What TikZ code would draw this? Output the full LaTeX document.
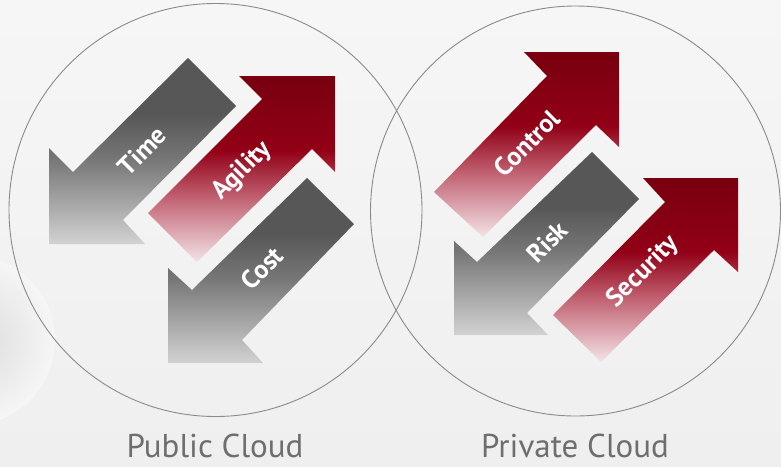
\documentclass[tikz,border=0pt]{standalone}
\usepackage{fontspec}
\setmainfont{PT Sans}
\definecolor{bgtop}{HTML}{F6F6F6}
\definecolor{bgbot}{HTML}{EFEFEF}
\definecolor{blobc}{HTML}{DADADA}
\definecolor{ring}{HTML}{8A8A8A}
\definecolor{gdark}{HTML}{575757}
\definecolor{gmid}{HTML}{767676}
\definecolor{glight}{HTML}{D2D2D2}
\definecolor{rdark}{HTML}{78000E}
\definecolor{rmid}{HTML}{920016}
\definecolor{rpink}{HTML}{C26474}
\definecolor{rlight}{HTML}{F3E3E6}
\definecolor{captext}{HTML}{6E6E6E}
\pgfdeclareverticalshading{grayarrow}{100bp}{color(0bp)=(glight); color(25bp)=(glight); color(48bp)=(gmid); color(60bp)=(gdark); color(100bp)=(gdark)}
\pgfdeclareverticalshading{redarrow}{100bp}{color(0bp)=(rlight); color(25bp)=(rlight); color(42bp)=(rpink); color(55bp)=(rmid); color(75bp)=(rdark); color(100bp)=(rdark)}
\tikzset{
  cloudring/.style={draw=ring, line width=0.9pt},
  grayarr/.style={shading=grayarrow},
  redarr/.style={shading=redarrow},
  lbl/.style={text=white, font=\bfseries\fontsize{26}{28}\selectfont, rotate=45, inner sep=0pt},
  caption/.style={text=captext, font=\fontsize{33}{36}\selectfont, inner sep=0pt, text depth=0pt, anchor=base}
}
\begin{document}
\begin{tikzpicture}[x=1pt, y=-1pt]
\useasboundingbox (0,0) rectangle (781,466);
\clip (0,0) rectangle (781,466);
\shade[top color=bgtop, bottom color=bgbot] (0,0) rectangle (781,466);
\shade[inner color=blobc, outer color=bgtop] (-30,340) circle (85);
% circles
\draw[cloudring] (215.5,210) circle (206.5);
\draw[cloudring] (575.5,211) circle (205);
% Public cloud arrows
\path[grayarr] (49,148) -- (73,172) -- (188,58) -- (236,106) -- (123,220) -- (145,244) -- (49,244) -- cycle;
\path[redarr] (335,76) -- (335,172) -- (312,149) -- (197,262) -- (148,213) -- (262,99) -- (239,76) -- cycle;
\path[grayarr] (168,268) -- (192,290) -- (307,178) -- (354,224) -- (242,340) -- (263,363) -- (168,363) -- cycle;
% Private cloud arrows
\path[redarr] (619,52) -- (619,147) -- (596,125) -- (483,237) -- (434,192) -- (547,76) -- (524,52) -- cycle;
\path[grayarr] (454,241) -- (477,262) -- (592,152) -- (639,199) -- (527,313) -- (548,335) -- (454,335) -- cycle;
\path[redarr] (738,178) -- (738,272) -- (714,250) -- (601,362) -- (553,315) -- (665,202) -- (643,178) -- cycle;
% labels
\node[lbl] (time) at (142,151) {Time};
\node[lbl] (agility) at (242,171) {Agility};
\node[lbl] (cost) at (262,268) {Cost};
\node[lbl] (control) at (527,143) {Control};
\node[lbl] (risk) at (547,242) {Risk};
\node[lbl] (security) at (643,272) {Security};
\node[caption] (public) at (215,457) {Public Cloud};
\node[caption] (private) at (575,457) {Private Cloud};
\end{tikzpicture}
\end{document}
